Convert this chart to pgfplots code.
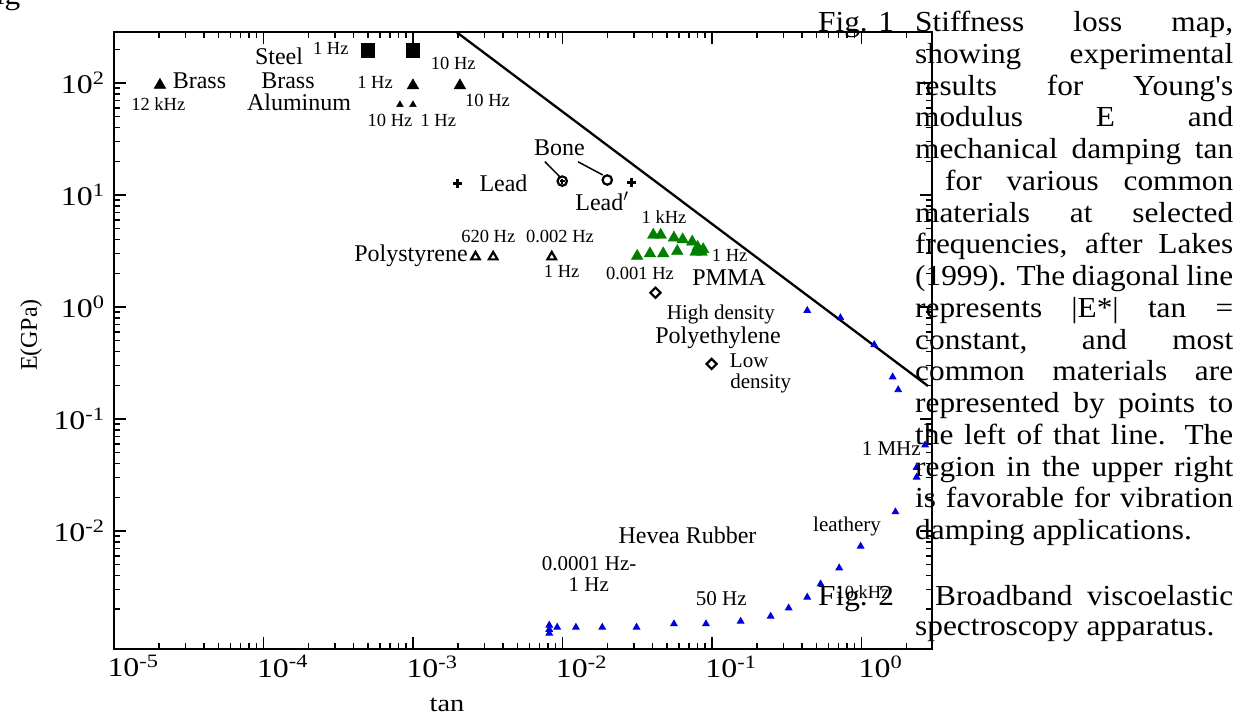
\documentclass[border=0pt]{standalone}
\usepackage{pgfplots}
\pgfplotsset{compat=1.18}
\usepackage{fontspec}
\setmainfont{Liberation Serif}
\newfontfamily\capfont[FakeStretch=1.08]{Liberation Serif}
\newfontfamily\tickfont[FakeStretch=1.18]{Liberation Serif}
\newcommand{\fs}[1]{\fontsize{#1}{#1}\selectfont}
\definecolor{pgreen}{rgb}{0,0.5,0}
\definecolor{pblue}{rgb}{0,0,0.88}
\begin{document}
\begin{tikzpicture}
\path[use as bounding box] (0pt,0pt) rectangle (1247pt,-717pt);
\begin{axis}[
  at={(114pt,-649pt)}, anchor=south west,
  scale only axis, width=818pt, height=617.3pt,
  xmode=log, ymode=log,
  xmin=1e-5, xmax=2.965, ymin=8.83e-4, ymax=287,
  xtick={1e-5,1e-4,1e-3,1e-2,1e-1,1},
  xticklabels={10\textsuperscript{-5},10\textsuperscript{-4},10\textsuperscript{-3},10\textsuperscript{-2},10\textsuperscript{-1},10\textsuperscript{0}},
  minor xtick={2e-5,3e-5,4e-5,5e-5,6e-5,7e-5,8e-5,9e-5,2e-4,3e-4,4e-4,5e-4,6e-4,7e-4,8e-4,9e-4,2e-3,3e-3,4e-3,5e-3,6e-3,7e-3,8e-3,9e-3,2e-2,3e-2,4e-2,5e-2,6e-2,7e-2,8e-2,9e-2,0.2,0.3,0.4,0.5,0.6,0.7,0.8,0.9,2},
  ytick={1e-2,1e-1,1,10,100},
  yticklabels={10\textsuperscript{-2},10\textsuperscript{-1},10\textsuperscript{0},10\textsuperscript{1},10\textsuperscript{2}},
  minor ytick={2e-3,3e-3,4e-3,5e-3,6e-3,7e-3,8e-3,9e-3,2e-2,3e-2,4e-2,5e-2,6e-2,7e-2,8e-2,9e-2,0.2,0.3,0.4,0.5,0.6,0.7,0.8,0.9,2,3,4,5,6,7,8,9,20,30,40,50,60,70,80,90,200},
  tick label style={font=\tickfont\fs{27}},
  xticklabel style={xshift=19pt, yshift=-3pt},
  yticklabel style={xshift=-6pt},
  major tick length=12pt, minor tick length=6pt,
  every tick/.style={black, line width=1.5pt},
  axis line style={line width=2.2pt},
  clip=false,
]
% diagonal line |E*| tan(delta) = const
\addplot[black, line width=2.3pt] coordinates {(1.94e-3,287) (2.785,0.197)};
% Bone connector lines
\addplot[black, line width=1.5pt] coordinates {(7.64e-3,19.8) (9.62e-3,14.5)};
\addplot[black, line width=1.5pt] coordinates {(0.0127,19.8) (0.01858,15.1)};
% Steel
\addplot[only marks, mark=square*, mark size=6.7pt, black] coordinates {(4.99e-4,197) (1e-3,197)};
% Brass
\addplot[only marks, mark=triangle*, mark size=6.7pt, black] coordinates {(2.03e-5,96) (1e-3,95) (2.06e-3,95)};
% Aluminum
\addplot[only marks, mark=triangle*, mark size=3.9pt, black] coordinates {(8.18e-4,64) (1e-3,64)};
% Lead
\addplot[only marks, mark=+, mark size=4.3pt, black, line width=2.4pt] coordinates {(1.99e-3,12.7) (0.029,12.9)};
% Bone
\addplot[only marks, mark=o, mark size=4.7pt, black, line width=2.2pt] coordinates {(9.97e-3,13.3) (0.01995,13.6)};
\addplot[only marks, mark=+, mark size=2.5pt, black, line width=1.6pt] coordinates {(9.97e-3,13.3)};
% Polystyrene
\addplot[only marks, mark=triangle, mark size=5pt, black, line width=2.2pt] coordinates {(2.62e-3,2.8) (3.44e-3,2.8) (8.48e-3,2.8)};
% PMMA
\addplot[only marks, mark=triangle*, mark size=6.7pt, pgreen] coordinates {
(0.0405,4.4) (0.0454,4.4) (0.0557,4.15) (0.0637,4.0) (0.0738,3.82) (0.0802,3.43) (0.0874,3.27)
(0.0316,2.85) (0.0385,3.0) (0.0472,3.0) (0.0586,3.15) (0.0778,3.1) (0.0853,3.1)};
% Polyethylene
\addplot[only marks, mark=square, mark size=3.6pt, mark options={rotate=45}, black, line width=2.2pt] coordinates {(0.0419,1.34) (0.0995,0.310)};
% Hevea rubber
\addplot[only marks, mark=triangle*, mark size=3.8pt, pblue, line width=0.8pt] coordinates {
(0.434,0.93) (0.724,0.80) (1.218,0.46) (1.617,0.237) (1.762,0.182)
(2.667,0.0585) (2.339,0.0369) (2.339,0.0302) (1.688,0.0148) (0.9876,0.0073)
(0.710,0.00467) (0.533,0.00336) (0.434,0.00256) (0.326,0.00205) (0.247,0.00173)
(0.1556,0.00156) (0.0912,0.00148) (0.0557,0.00148) (0.0313,0.00138) (0.01846,0.00138)
(0.0123,0.00138) (0.00922,0.00138) (0.00816,0.00144) (0.00816,0.00132) (0.00816,0.00122)};
\end{axis}
% ---------- labels (pixel coordinates: x right, y down) ----------
\tikzset{lb/.style={anchor=base, inner sep=0pt, font=\fs{24}},
         ls/.style={anchor=base, inner sep=0pt, font=\fs{18.5}},
         lm/.style={anchor=base, inner sep=0pt, font=\fs{21}}}
\node[lb] at (279pt,-64pt) {Steel};
\node[lb] at (288pt,-88.3pt) {Brass};
\node[lb] at (299pt,-110pt) {Aluminum};
\node[lb] at (199.5pt,-88.3pt) {Brass};
\node[lb] at (503.5pt,-191.7pt) {Lead};
\node[lb] at (559.5pt,-155pt) {Bone};
\node[lb] at (602pt,-210.7pt) {Lead$'$};
\node[lb] at (411pt,-261.7pt) {Polystyrene};
\node[lb] at (729pt,-285.7pt) {PMMA};
\node[lb] at (718pt,-343.3pt) {Polyethylene};
\node[lb] at (687.5pt,-543.3pt) {Hevea Rubber};
\node[ls] at (330.8pt,-55pt) {1 Hz};
\node[ls] at (453.3pt,-70pt) {10 Hz};
\node[ls] at (375pt,-88.3pt) {1 Hz};
\node[ls] at (487.5pt,-106.7pt) {10 Hz};
\node[ls] at (390pt,-126pt) {10 Hz};
\node[ls] at (438.3pt,-126pt) {1 Hz};
\node[ls] at (158.3pt,-110pt) {12 kHz};
\node[ls] at (664pt,-223.3pt) {1 kHz};
\node[ls] at (488.3pt,-242.7pt) {620 Hz};
\node[ls] at (560pt,-242.7pt) {0.002 Hz};
\node[ls] at (561.7pt,-277.3pt) {1 Hz};
\node[ls] at (640pt,-279.3pt) {0.001 Hz};
\node[ls] at (729.7pt,-261.7pt) {1 Hz};
\node[lm] at (720.8pt,-319.3pt) {High density};
\node[lm] at (749.2pt,-367.3pt) {Low};
\node[lm] at (760.7pt,-388.3pt) {density};
\node[lm] at (589.2pt,-570.7pt) {0.0001 Hz-};
\node[lm] at (588.7pt,-591.7pt) {1 Hz};
\node[lm] at (721.2pt,-605.7pt) {50 Hz};
\node[lm] at (847pt,-531pt) {leathery};
\node[lm] at (891.2pt,-455pt) {1 MHz};
\node[ls] at (862.5pt,-598.3pt) {10 kHz};
% axis titles
\node[inner sep=0pt, font=\tickfont\fs{24}] at (447pt,-705pt) {tan};
\node[inner sep=0pt, font=\fs{24}, rotate=90] at (31pt,-335pt) {E(GPa)};
% ---------- caption column ----------
\tikzset{cp/.style={anchor=base west, inner sep=0pt, font=\capfont\fs{29}}}
\node[cp] at (-10pt,-5pt) {\makebox[30pt][r]{Fig}};
\node[cp] at (818pt,-31.7pt) {Fig. 1};
\node[cp] at (915pt,-31.7pt) {\makebox[318pt][s]{Stiffness loss map,}};
\node[cp] at (915pt,-63.45pt) {\makebox[318pt][s]{showing experimental}};
\node[cp] at (915pt,-95.2pt) {\makebox[318pt][s]{results for Young's}};
\node[cp] at (915pt,-126.95pt) {\makebox[318pt][s]{modulus E and}};
\node[cp] at (915pt,-158.7pt) {\makebox[318pt][s]{mechanical damping tan}};
\node[cp] at (945pt,-190.45pt) {\makebox[288pt][s]{for various common}};
\node[cp] at (915pt,-222.2pt) {\makebox[318pt][s]{materials at selected}};
\node[cp] at (915pt,-253.95pt) {\makebox[318pt][s]{frequencies, after Lakes}};
\node[cp] at (915pt,-285.7pt) {\makebox[318pt][s]{(1999). The diagonal line}};
\node[cp] at (915pt,-317.45pt) {\makebox[318pt][s]{represents |E*| tan =}};
\node[cp] at (915pt,-349.2pt) {\makebox[318pt][s]{constant, and most}};
\node[cp] at (915pt,-380.95pt) {\makebox[318pt][s]{common materials are}};
\node[cp] at (915pt,-412.7pt) {\makebox[318pt][s]{represented by points to}};
\node[cp] at (915pt,-444.45pt) {\makebox[318pt][s]{the left of that line. The}};
\node[cp] at (915pt,-476.2pt) {\makebox[318pt][s]{region in the upper right}};
\node[cp] at (915pt,-507.95pt) {\makebox[318pt][s]{is favorable for vibration}};
\node[cp] at (915pt,-539.7pt) {damping applications.};
\node[cp] at (818pt,-605pt) {Fig. 2};
\node[cp] at (935pt,-605pt) {\makebox[298pt][s]{Broadband viscoelastic}};
\node[cp] at (915pt,-635.5pt) {spectroscopy apparatus.};
\end{tikzpicture}
\end{document}
